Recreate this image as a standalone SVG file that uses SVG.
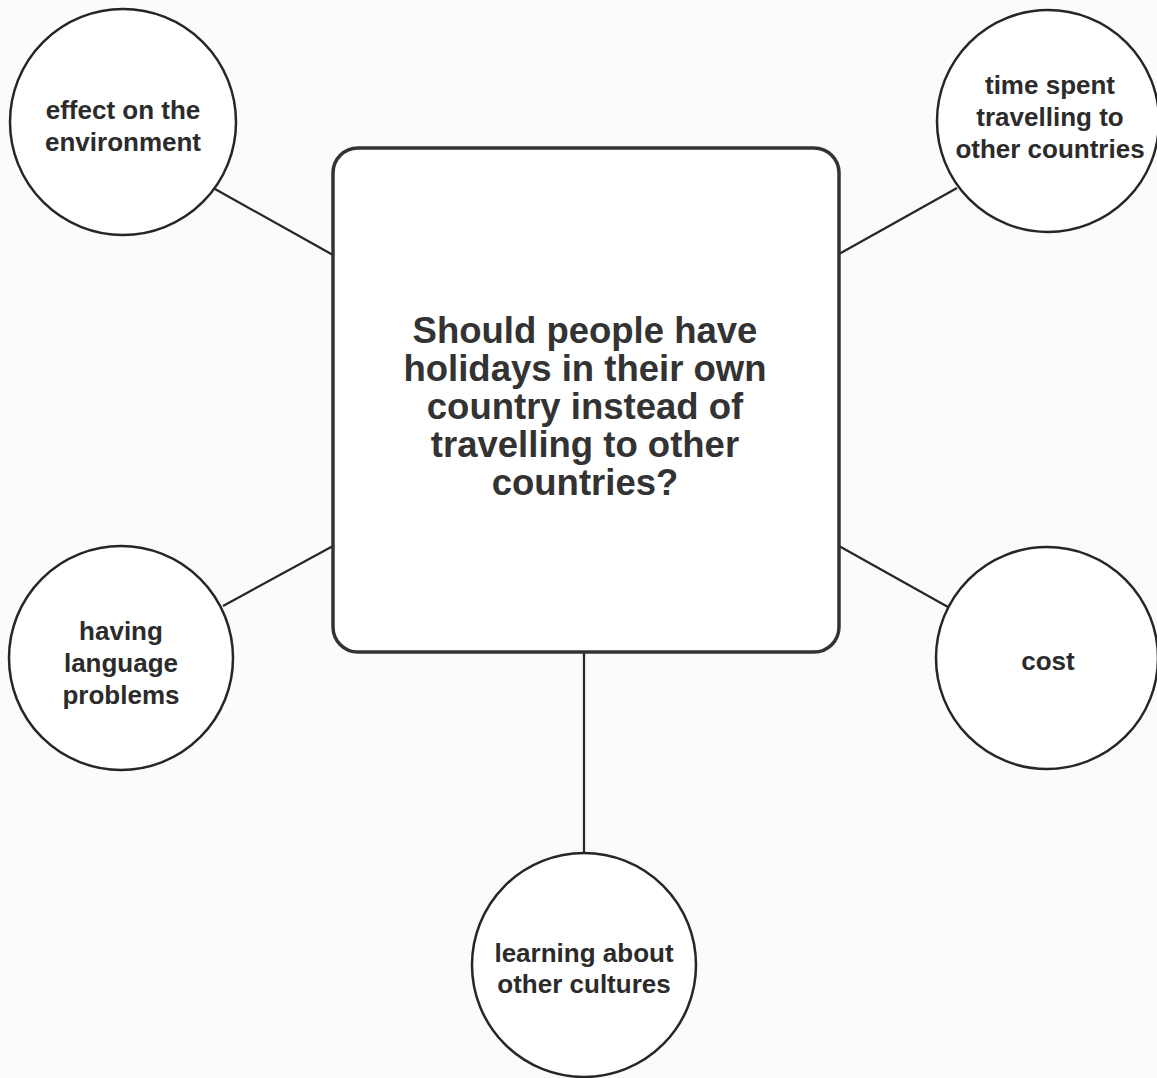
<svg xmlns="http://www.w3.org/2000/svg" width="1157" height="1078" viewBox="0 0 1157 1078">
<style>
.node circle{fill:#ffffff;stroke:#262626;stroke-width:2.5}
.box{fill:#ffffff;stroke:#333333;stroke-width:3.5}
.lbl{font-family:"Liberation Sans",Arial,Helvetica,sans-serif;font-weight:bold;font-size:26px;fill:#2b2b2b;text-anchor:middle}
.big{font-family:"Liberation Sans",Arial,Helvetica,sans-serif;font-weight:bold;font-size:36.5px;fill:#333333;text-anchor:middle}
#connectors line{stroke:#262626;stroke-width:2.2}
</style>
<rect width="1157" height="1078" fill="#fbfbfa"/>
<g id="connectors">
<line x1="215" y1="189" x2="333" y2="255"/>
<line x1="957" y1="188" x2="839" y2="254"/>
<line x1="223" y1="606" x2="333" y2="546"/>
<line x1="839" y1="546" x2="948" y2="607"/>
<line x1="584" y1="652" x2="584" y2="853"/>
</g>
<g id="center">
<rect class="box" x="333" y="148" width="506" height="504" rx="25" ry="25"/>
<text class="big" x="585" y="343">Should people have</text>
<text class="big" x="585" y="381">holidays in their own</text>
<text class="big" x="585" y="419">country instead of</text>
<text class="big" x="585" y="457">travelling to other</text>
<text class="big" x="585" y="495">countries?</text>
</g>
<g id="node-environment" class="node">
<circle cx="123" cy="122" r="113"/>
<text class="lbl" x="123" y="119">effect on the</text>
<text class="lbl" x="123" y="151">environment</text>
</g>
<g id="node-time" class="node">
<circle cx="1048" cy="121" r="111"/>
<text class="lbl" x="1050" y="94">time spent</text>
<text class="lbl" x="1050" y="126">travelling to</text>
<text class="lbl" x="1050" y="158">other countries</text>
</g>
<g id="node-language" class="node">
<circle cx="121" cy="658" r="112"/>
<text class="lbl" x="121" y="640">having</text>
<text class="lbl" x="121" y="672">language</text>
<text class="lbl" x="121" y="704">problems</text>
</g>
<g id="node-cost" class="node">
<circle cx="1047" cy="658" r="111"/>
<text class="lbl" x="1048" y="670">cost</text>
</g>
<g id="node-cultures" class="node">
<circle cx="584" cy="965" r="112"/>
<text class="lbl" x="584" y="962">learning about</text>
<text class="lbl" x="584" y="993">other cultures</text>
</g>
</svg>
